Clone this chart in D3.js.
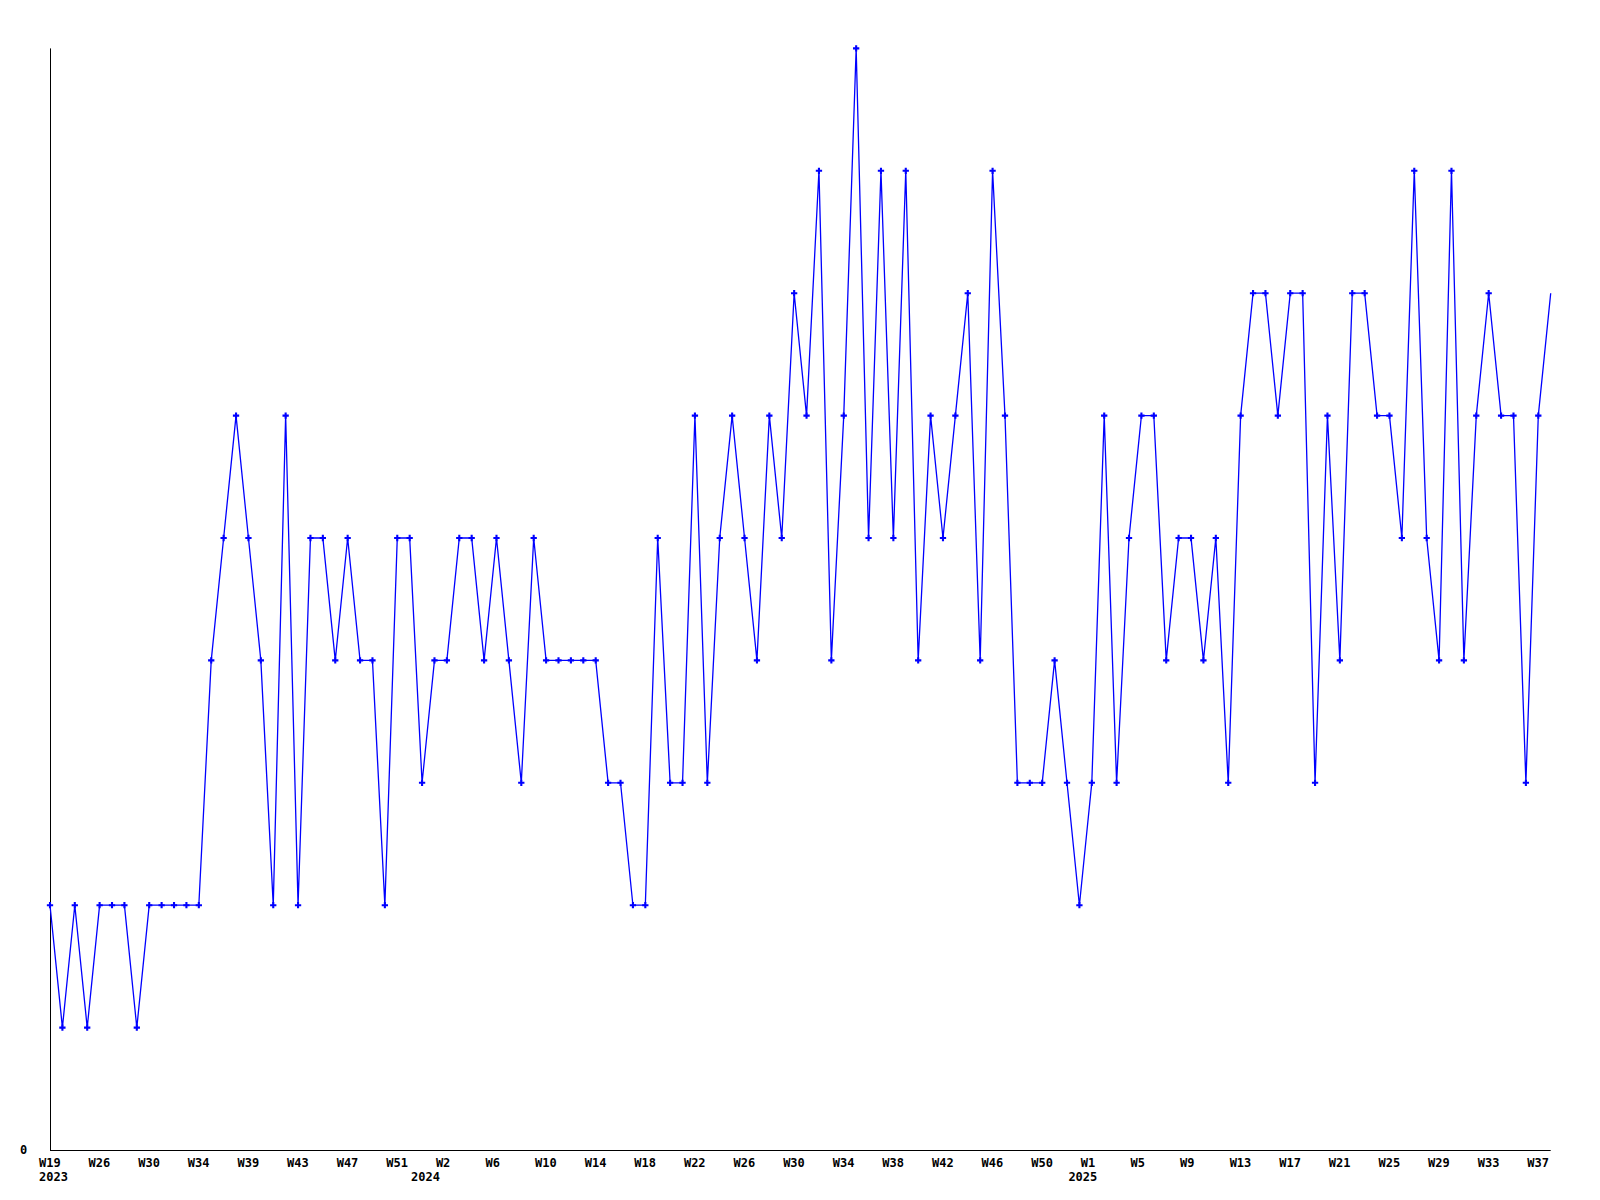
<!DOCTYPE html>
<html>
<head>
<meta charset="utf-8">
<script src="https://cdn.jsdelivr.net/npm/d3@7"></script>
<style>
  body { margin: 0; background: #fff; }
  text { font-family: "DejaVu Sans Mono", monospace; font-size: 12px; font-weight: bold; fill: #000; }
</style>
</head>
<body>
<svg width="1600" height="1200"></svg>
<script>
// weekly counts, one per week that has data
var values = [
    2,1,2,1,2,2,2,1,2,2,2,2,2,
    4,5,6,5,4,2,6,2,5,5,4,5,4,4,2,
    5,5,3,4,4,5,5,4,5,4,3,5,4,4,4,4,4,3,3,2,2,
    5,3,3,6,3,5,6,5,4,6,5,7,6,8,4,6,9,5,8,5,8,4,6,5,6,7,4,8,
    6,3,3,3,4,3,2,3,6,3,5,6,6,4,5,5,4,5,3,6,7,7,6,7,7,3,6,4,7,7,6,6,5,8,5,4,8,4,6,7,6,6,3,6,7
];

// label shown every 4th point
var weekLabels = ["W19","W26","W30","W34","W39","W43","W47","W51","W2","W6","W10","W14","W18","W22","W26","W30",
    "W34","W38","W42","W46","W50","W1","W5","W9","W13","W17","W21","W25","W29","W33","W37"];
var labelEvery = 4;

// first point of each year
var years = ["2023", "2024", "2025"];
var yearStart = [0, 30, 83];

var yTicks = [0];
var yMax = 9;

var loadVis = function() {

    var svg = d3.select("svg");

    var x = d3.scaleLinear()
        .domain([0, values.length - 1])
        .range([50, 1550.7]);

    var y = d3.scaleLinear()
        .domain([0, yMax])
        .range([1150, 48.4]);

    // axes lines
    svg.append("line")
        .attr("x1", x(0) + 0.5).attr("x2", x(0) + 0.5)
        .attr("y1", y(yMax)).attr("y2", y(0) + 0.5)
        .style("stroke", "black");
    svg.append("line")
        .attr("x1", x(0)).attr("x2", x(values.length - 1))
        .attr("y1", y(0) + 0.5).attr("y2", y(0) + 0.5)
        .style("stroke", "black");

    svg.selectAll(".ylab")
        .data(yTicks).enter()
        .append("text")
            .attr("class", "ylab")
            .attr("x", 20)
            .attr("y", function(d) { return y(d) + 4; })
            .text(function(d) { return d; });

    svg.selectAll(".xlab")
        .data(weekLabels).enter()
        .append("text")
            .attr("class", "xlab")
            .attr("x", function(d, i) { return x(i * labelEvery) - 11; })
            .attr("y", 1167)
            .text(function(d) { return d; });

    svg.selectAll(".yearlab")
        .data(years).enter()
        .append("text")
            .attr("class", "yearlab")
            .attr("x", function(d, i) { return x(yearStart[i]) - 11; })
            .attr("y", 1181)
            .text(function(d) { return d; });

    var line = d3.line()
        .x(function(d, i) { return x(i); })
        .y(function(d) { return y(d); });

    svg.append("path")
        .datum(values)
        .attr("d", line)
        .style("fill", "none")
        .style("stroke", "#0000ff")
        .style("stroke-width", 1.3);

    // markers on all but the last (unfinished) week
    var sym = d3.symbol().type(d3.symbolCross).size(22);
    svg.append("g")
        .selectAll("path")
        .data(values.slice(0, -1)).enter()
        .append("path")
            .attr("d", sym)
            .attr("transform", function(d, i) { return "translate(" + x(i) + "," + y(d) + ")"; })
            .style("fill", "#0000ff");
}

document.addEventListener('DOMContentLoaded', loadVis, false);
</script>
</body>
</html>
